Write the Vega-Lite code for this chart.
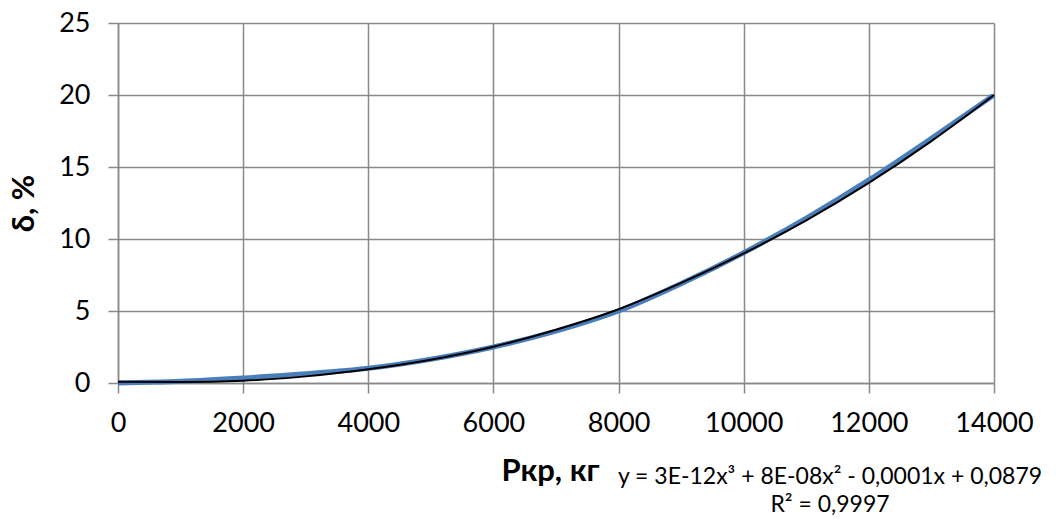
{
  "$schema": "https://vega.github.io/schema/vega-lite/v6.json",
  "autosize": "none",
  "width": 876,
  "height": 360,
  "padding": {"left": 118, "top": 23, "right": 65, "bottom": 136},
  "background": "white",
  "config": {
    "view": {"stroke": null},
    "font": "Lato"
  },
  "title": {
    "text": "y = 3E-12x³ + 8E-08x² - 0,0001x + 0,0879",
    "subtitle": "R² = 0,9997",
    "orient": "bottom",
    "anchor": "end",
    "frame": "group",
    "align": "center",
    "dx": -164,
    "offset": -20,
    "font": "Lato",
    "fontSize": 23,
    "fontWeight": "normal",
    "color": "#000000",
    "subtitleFont": "Lato",
    "subtitleFontSize": 23,
    "subtitleColor": "#000000",
    "subtitlePadding": 5
  },
  "datasets": {
    "measured": [
      {"P": 0, "d": 0.0},
      {"P": 1000, "d": 0.12},
      {"P": 2000, "d": 0.35},
      {"P": 3000, "d": 0.64},
      {"P": 4000, "d": 1.02},
      {"P": 5000, "d": 1.65},
      {"P": 6000, "d": 2.5},
      {"P": 7000, "d": 3.6},
      {"P": 8000, "d": 5.0},
      {"P": 9000, "d": 6.9},
      {"P": 10000, "d": 9.05},
      {"P": 11000, "d": 11.45},
      {"P": 12000, "d": 14.1},
      {"P": 13000, "d": 17.0},
      {"P": 14000, "d": 20.0}
    ],
    "trend": [
      {"P": 0, "d": 0.09},
      {"P": 1000, "d": 0.07},
      {"P": 2000, "d": 0.16},
      {"P": 3000, "d": 0.46},
      {"P": 4000, "d": 0.96},
      {"P": 5000, "d": 1.62},
      {"P": 6000, "d": 2.52},
      {"P": 7000, "d": 3.7},
      {"P": 8000, "d": 5.12},
      {"P": 9000, "d": 6.95},
      {"P": 10000, "d": 9.0},
      {"P": 11000, "d": 11.3},
      {"P": 12000, "d": 13.9},
      {"P": 13000, "d": 16.8},
      {"P": 14000, "d": 20.0}
    ]
  },
  "encoding": {
    "x": {
      "field": "P",
      "type": "quantitative",
      "scale": {"domain": [0, 14000], "nice": false, "zero": true},
      "axis": {
        "title": "Ркр, кг",
        "titleFont": "Lato",
        "titleFontSize": 31,
        "titleFontWeight": "bold",
        "titleColor": "#000000",
        "titlePadding": 20,
        "titleX": 432,
        "values": [0, 2000, 4000, 6000, 8000, 10000, 12000, 14000],
        "format": "d",
        "labelFont": "Lato",
        "labelFontSize": 27,
        "labelColor": "#000000",
        "labelPadding": 17,
        "tickSize": 10,
        "tickColor": "#898989",
        "tickWidth": 1.5,
        "domainColor": "#898989",
        "domainWidth": 1.5,
        "gridColor": "#898989",
        "gridWidth": 1.5,
        "gridOpacity": 1,
        "labelFlush": false,
        "labelOverlap": false
      }
    },
    "y": {
      "field": "d",
      "type": "quantitative",
      "scale": {"domain": [0, 25], "nice": false},
      "axis": {
        "title": "δ, %",
        "titleFont": "Lato",
        "titleFontSize": 31,
        "titleFontWeight": "bold",
        "titleColor": "#000000",
        "titlePadding": 18,
        "values": [0, 5, 10, 15, 20, 25],
        "labelFont": "Lato",
        "labelFontSize": 27,
        "labelColor": "#000000",
        "labelPadding": 18,
        "tickSize": 10,
        "tickColor": "#898989",
        "tickWidth": 1.5,
        "domainColor": "#898989",
        "domainWidth": 1.5,
        "gridColor": "#898989",
        "gridWidth": 1.5,
        "gridOpacity": 1,
        "labelFlush": false,
        "labelOverlap": false
      }
    }
  },
  "layer": [
    {
      "data": {"name": "measured"},
      "mark": {"type": "line", "color": "#4A7EBB", "strokeWidth": 5, "interpolate": "monotone"}
    },
    {
      "data": {"name": "trend"},
      "mark": {"type": "line", "color": "#000000", "strokeWidth": 2, "interpolate": "monotone"}
    }
  ]
}
